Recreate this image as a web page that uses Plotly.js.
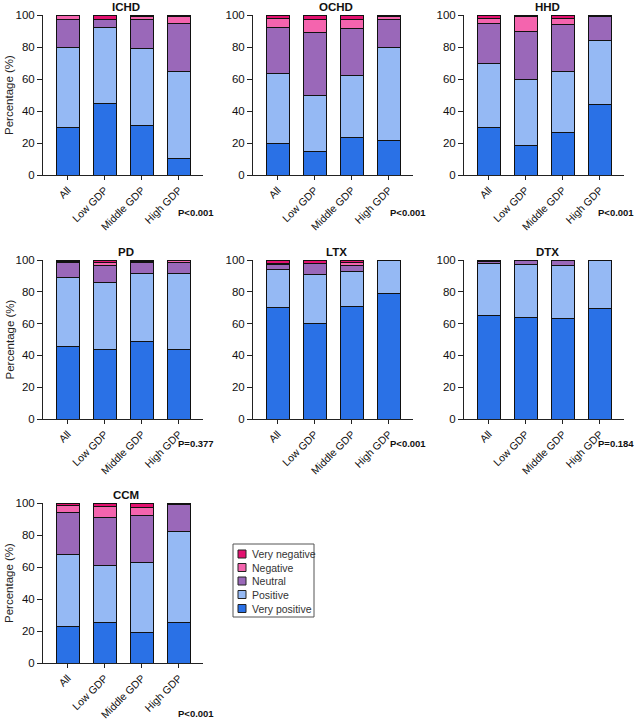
<!DOCTYPE html>
<html>
<head>
<meta charset="utf-8">
<script src="https://cdn.plot.ly/plotly-3.0.1.min.js"></script>
<style>html,body{margin:0;padding:0;background:#fff;}#chart{width:637px;height:722px;}</style>
</head>
<body>
<div id="chart"></div>
<script>
// ---- data ----
const categories = ["All", "Low GDP", "Middle GDP", "High GDP"];
const panelNames = ["ICHD", "OCHD", "HHD", "PD", "LTX", "DTX", "CCM"];
const pValues = ["P<0.001", "P<0.001", "P<0.001", "P=0.377", "P<0.001", "P=0.184", "P<0.001"];
const seriesNames = ["Very positive", "Positive", "Neutral", "Negative", "Very negative"];
// one row per panel, columns follow categories
const veryPositive = [
  [30, 45, 31, 10.5],
  [20, 15, 23.5, 21.5],
  [29.5, 18.5, 26.5, 44],
  [45.5, 44, 48.5, 43.5],
  [70, 60, 71, 79],
  [65, 64, 63, 69.5],
  [23, 25.5, 19, 25.5]
];
const positive = [
  [49.5, 47, 48, 54.5],
  [43.5, 35, 38.5, 58],
  [40, 41.5, 38, 40],
  [43.5, 42, 43, 48],
  [24, 31, 21.5, 21],
  [32.5, 33, 33.5, 30.5],
  [45, 35.5, 44, 56.5]
];
const neutral = [
  [17.5, 5.5, 18.5, 30],
  [28.5, 39, 29.5, 18],
  [25, 30, 29.5, 15],
  [9.5, 10.5, 7, 7],
  [3, 7, 4, 0],
  [1.5, 2.5, 3, 0],
  [26, 30, 29, 17]
];
const negative = [
  [2.5, 0, 1.8, 4],
  [6, 8.5, 5.5, 1.5],
  [3.5, 9, 4, 0],
  [0.5, 2, 0.5, 1],
  [0.5, 0, 2, 0],
  [0, 0, 0, 0],
  [4.5, 7, 5.5, 0]
];
const veryNegative = [
  [0.5, 2.5, 0.7, 1],
  [2, 2.5, 3, 1],
  [2, 1, 2, 1],
  [1, 1.5, 1, 0.5],
  [2.5, 2, 1.5, 0],
  [1, 0.5, 0.5, 0],
  [1.5, 2, 2.5, 1]
];
const seriesColors = ["#2a71e6", "#95b9f4", "#9a68b9", "#f464ae", "#e3106f"];

// ---- layout geometry (pixels) ----
const W = 637, H = 722;
const colX = [[43, 203], [253, 413], [464, 624]];
const rowY = [[15, 175], [260, 419], [503, 663]];
const titleY = [7, 252, 495];
const pY = [213, 443, 713];
const pX = [216, 428, 636];

const allSeries = [veryPositive, positive, neutral, negative, veryNegative];
const traces = [];
const layout = {
  width: W, height: H,
  margin: {l: 0, r: 0, t: 0, b: 0},
  paper_bgcolor: "#fff", plot_bgcolor: "#fff",
  barmode: "stack",
  bargap: 0.38,
  font: {family: "Liberation Sans, Arial, sans-serif", color: "#111", size: 11},
  showlegend: false,
  annotations: [],
  shapes: []
};

panelNames.forEach((name, i) => {
  const row = Math.floor(i / 3), col = i % 3;
  const sfx = i === 0 ? "" : String(i + 1);
  const xa = "x" + sfx, ya = "y" + sfx;
  allSeries.forEach((arr, s) => {
    traces.push({
      type: "bar", x: categories, y: arr[i], name: seriesNames[s],
      xaxis: xa, yaxis: ya, cliponaxis: false,
      marker: {color: seriesColors[s], line: {color: "#111", width: 1}},
      hoverinfo: "y+name"
    });
  });
  layout["xaxis" + sfx] = {
    domain: [colX[col][0] / W, colX[col][1] / W],
    anchor: ya, type: "category", range: [-0.67, 3.65],
    showline: true, linecolor: "#222", linewidth: 1, mirror: false,
    ticks: "outside", ticklen: 4, tickcolor: "#222", tickangle: -45,
    showgrid: false, zeroline: false, tickfont: {size: 10.5, color: "#111"},
    fixedrange: true
  };
  layout["yaxis" + sfx] = {
    domain: [1 - rowY[row][1] / H, 1 - rowY[row][0] / H],
    anchor: xa, range: [0, 100], tickvals: [0, 20, 40, 60, 80, 100],
    showline: true, linecolor: "#222", linewidth: 1,
    ticks: "outside", ticklen: 5, tickcolor: "#222",
    showgrid: false, zeroline: false, tickfont: {size: 11.5, color: "#111"},
    fixedrange: true
  };
  layout.annotations.push({
    text: "<b>" + name + "</b>", xref: "paper", yref: "paper",
    x: (colX[col][0] + colX[col][1]) / 2 / W + 3 / W, y: 1 - titleY[row] / H,
    xanchor: "center", yanchor: "middle", showarrow: false,
    font: {size: 11.5, color: "#111"}
  });
  layout.annotations.push({
    text: "<b>" + pValues[i] + "</b>", xref: "paper", yref: "paper",
    x: pX[col] / W, y: 1 - pY[row] / H,
    xanchor: "right", yanchor: "middle", showarrow: false,
    font: {size: 9.5, color: "#111"}
  });
  if (col === 0) {
    layout.annotations.push({
      text: "Percentage (%)", xref: "paper", yref: "paper",
      x: 9 / W, y: 1 - (rowY[row][0] + rowY[row][1]) / 2 / H,
      xanchor: "center", yanchor: "middle", textangle: -90, showarrow: false,
      font: {size: 11.5, color: "#222"}
    });
  }
});

// ---- custom compact legend (top item = Very negative) ----
const lgBox = {x0: 233, y0: 544, x1: 314, y1: 617};
layout.shapes.push({
  type: "rect", xref: "paper", yref: "paper",
  x0: lgBox.x0 / W, x1: lgBox.x1 / W, y0: 1 - lgBox.y1 / H, y1: 1 - lgBox.y0 / H,
  line: {color: "#555", width: 1}, fillcolor: "#fff", layer: "above"
});
const lgRows = [554, 567.5, 581, 594.5, 608.5];
for (let k = 0; k < 5; k++) {
  const s = 4 - k;
  const cy = lgRows[k];
  layout.shapes.push({
    type: "rect", xref: "paper", yref: "paper",
    x0: 238 / W, x1: 246 / W, y0: 1 - (cy + 4) / H, y1: 1 - (cy - 4) / H,
    line: {color: "#222", width: 1}, fillcolor: seriesColors[s], layer: "above"
  });
  layout.annotations.push({
    text: seriesNames[s], xref: "paper", yref: "paper",
    x: 250 / W, y: 1 - cy / H, xanchor: "left", yanchor: "middle",
    showarrow: false, font: {size: 10.5, color: "#333"}
  });
}

Plotly.newPlot("chart", traces, layout, {displayModeBar: false, staticPlot: true});
</script>
</body>
</html>
